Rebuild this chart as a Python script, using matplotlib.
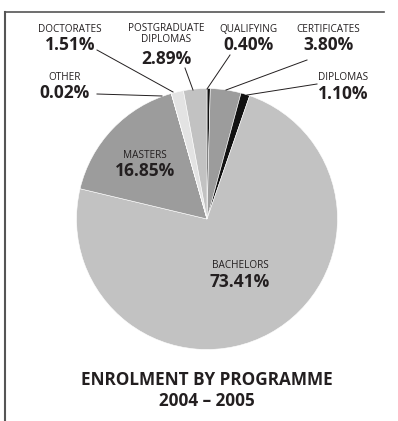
import matplotlib.pyplot as plt

W, H = 398, 421

programmes = ['QUALIFYING', 'CERTIFICATES', 'DIPLOMAS', 'BACHELORS', 'MASTERS',
              'OTHER', 'DOCTORATES', 'POSTGRADUATE\nDIPLOMAS']
shares = [0.40, 3.80, 1.10, 73.41, 16.85, 0.02, 1.51, 2.89]
colors = ['#111111', '#9c9c9c', '#111111', '#c2c2c2', '#9c9c9c',
          '#9c9c9c', '#e3e3e3', '#c2c2c2']

# label placement in pixel coords (x, name y, pct y from top), leader line start/end
label_pos = {
    'QUALIFYING': (248, 29, 45, (230, 55), (207, 89)),
    'CERTIFICATES': (328, 29, 45, (307, 60), (226, 90)),
    'DIPLOMAS': (343, 78, 94, (317, 84), (247, 95)),
    'OTHER': (65, 77, 93, (97, 94), (162, 96)),
    'DOCTORATES': (70, 29, 45, (97, 50), (173, 92)),
    'POSTGRADUATE\nDIPLOMAS': (166, 34, 59, (185, 68), (193, 90)),
}
inside_pos = {'MASTERS': (145, 155, 171), 'BACHELORS': (240, 266, 282)}

txt = '#231f20'
plt.rcParams['font.family'] = ['Open Sans', 'DejaVu Sans']

fig = plt.figure(figsize=(W / 100, H / 100), dpi=100)
ax = fig.add_axes([0, 0, 1, 1])

ax.pie(shares, colors=colors, startangle=90, counterclock=False,
       center=(207, H - 219), radius=130.5,
       wedgeprops=dict(edgecolor='white', linewidth=0.4))
ax.set_xlim(0, W)
ax.set_ylim(0, H)
ax.set_aspect('auto')
ax.axis('off')

for name, val in zip(programmes, shares):
    pct = f'{val:.2f}%'
    if name in label_pos:
        x, y, py, p0, p1 = label_pos[name]
        ax.plot([p0[0], p1[0]], [H - p0[1], H - p1[1]], color='#231f20', lw=0.7)
    else:
        x, y, py = inside_pos[name]
    ax.text(x, H - y, name, ha='center', va='center', fontsize=7.2,
            color=txt, linespacing=1.0)
    ax.text(x, H - py, pct, ha='center', va='center', fontsize=12.5,
            fontweight='bold', color=txt)

ax.text(207, H - 380, 'ENROLMENT BY PROGRAMME', ha='center', va='center',
        fontsize=12.3, fontweight='bold', color=txt)
ax.text(207, H - 401, '2004 – 2005', ha='center', va='center',
        fontsize=12.3, fontweight='bold', color=txt)

# frame lines
ax.plot([5, 384], [H - 12, H - 12], color='#555555', lw=1.2)
ax.plot([5, 5], [H - 12, 0], color='#555555', lw=1.5)

fig.savefig('out.png', dpi=100)
